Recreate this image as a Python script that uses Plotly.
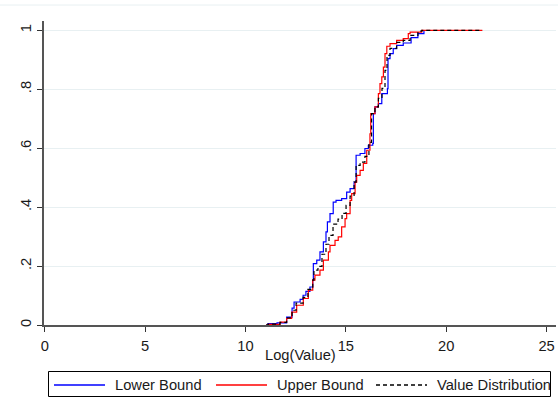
import plotly.graph_objects as go

# Lower Bound (blue) step points: (log value, cumulative share)
lower_x = [11.02, 11.12, 11.57, 12.05, 12.32, 12.42, 12.72, 12.87, 13.01, 13.21, 13.35, 13.38,
           13.55, 13.71, 13.88, 14.01, 14.08, 14.21, 14.37, 14.51, 14.79, 15.04, 15.21, 15.41,
           15.51, 15.71, 15.95, 16.12, 16.34, 16.37, 16.45, 16.62, 16.79, 17.07, 17.10, 17.20,
           17.36, 17.53, 17.86, 18.25, 18.59, 18.89]
lower_y = [0.000, 0.005, 0.007, 0.027, 0.057, 0.078, 0.087, 0.101, 0.114, 0.129, 0.152, 0.208,
           0.220, 0.248, 0.282, 0.316, 0.350, 0.378, 0.417, 0.423, 0.429, 0.451, 0.463, 0.485,
           0.576, 0.582, 0.599, 0.610, 0.616, 0.717, 0.740, 0.751, 0.785, 0.802, 0.904, 0.921,
           0.938, 0.949, 0.957, 0.975, 0.989, 1.000]

# Upper Bound (red)
upper_x = [11.02, 11.14, 11.72, 12.05, 12.30, 12.55, 12.88, 13.13, 13.35, 13.46, 13.71, 13.88,
           14.13, 14.21, 14.46, 14.62, 14.79, 14.96, 15.04, 15.21, 15.29, 15.46, 15.54, 15.71,
           15.87, 16.04, 16.20, 16.24, 16.45, 16.62, 16.70, 16.79, 16.87, 16.95, 17.04, 17.20,
           17.53, 17.86, 18.11, 18.20, 18.78, 21.80]
upper_y = [0.000, 0.002, 0.010, 0.022, 0.044, 0.067, 0.090, 0.118, 0.152, 0.169, 0.186, 0.220,
           0.248, 0.270, 0.287, 0.299, 0.333, 0.361, 0.378, 0.423, 0.446, 0.485, 0.508, 0.525,
           0.548, 0.593, 0.649, 0.717, 0.740, 0.785, 0.819, 0.842, 0.875, 0.921, 0.946, 0.955,
           0.966, 0.972, 0.989, 0.994, 1.000, 1.000]

# Value Distribution (black dashed)
value_x = [11.02, 11.12, 11.72, 12.05, 12.32, 12.52, 12.87, 13.11, 13.35, 13.41, 13.61, 13.81,
           14.01, 14.16, 14.36, 14.61, 14.81, 15.01, 15.21, 15.41, 15.51, 15.71, 15.95, 16.15,
           16.28, 16.45, 16.62, 16.80, 16.95, 17.05, 17.20, 17.53, 17.86, 18.20, 18.59, 18.79,
           21.80]
value_y = [0.000, 0.003, 0.009, 0.024, 0.050, 0.074, 0.094, 0.121, 0.152, 0.186, 0.199, 0.240,
           0.274, 0.304, 0.342, 0.359, 0.379, 0.406, 0.437, 0.485, 0.542, 0.553, 0.572, 0.620,
           0.717, 0.740, 0.769, 0.803, 0.864, 0.915, 0.939, 0.959, 0.966, 0.983, 0.997, 1.000,
           1.000]

x_ticks = [0, 5, 10, 15, 20, 25]
y_ticks = [0, 0.2, 0.4, 0.6, 0.8, 1]
y_tick_labels = ["0", ".2", ".4", ".6", ".8", "1"]

series_names = ["Lower Bound", "Upper Bound", "Value Distribution"]
series_colors = ["#0000ff", "#ff0000", "#000000"]
series_dash = ["solid", "solid", "4px,3px"]

FONT = "Liberation Sans, Arial, sans-serif"
FS = 14.7
TXT = "#1a1a1a"

# figure geometry in pixels (for the hand-drawn legend box)
W, H = 558, 403
ML, MR, MT, MB = 44, 2, 21, 78
PW, PH = W - ML - MR, H - MT - MB
def px_x(px):
    return (px - ML) / PW
def px_y(py):
    return (H - MB - py) / PH

fig = go.Figure()
for xs, ys, nm, col, dsh in zip([lower_x, upper_x, value_x], [lower_y, upper_y, value_y],
                                series_names, series_colors, series_dash):
    fig.add_trace(go.Scatter(x=xs, y=ys, mode="lines", name=nm, showlegend=False,
                             line=dict(color=col, width=1.2, shape="hv", dash=dsh)))

# legend drawn as shapes + text
legend_line_px = [(54, 105), (216, 267), (376, 427)]
legend_text_px = [113, 275, 435]
legend_y = 385
shapes = [
    dict(type="line", xref="paper", yref="paper", x0=-0.09, x1=1.01, y0=px_y(5), y1=px_y(5),
         line=dict(color="#e8f0f2", width=1)),
    dict(type="rect", xref="paper", yref="paper",
         x0=px_x(48.5), x1=px_x(550.5), y0=px_y(371.5), y1=px_y(396.5),
         line=dict(color="#000000", width=1), fillcolor="rgba(0,0,0,0)"),
]
annotations = [dict(text="Log(Value)", xref="paper", yref="paper", x=0.5, y=px_y(355),
                    xanchor="center", yanchor="middle", showarrow=False,
                    font=dict(family=FONT, size=FS, color=TXT))]
for (a, b), tx, nm, col, dsh in zip(legend_line_px, legend_text_px, series_names,
                                     series_colors, series_dash):
    shapes.append(dict(type="line", xref="paper", yref="paper", x0=px_x(a), x1=px_x(b),
                       y0=px_y(legend_y), y1=px_y(legend_y),
                       line=dict(color=col, width=1.3, dash=dsh)))
    annotations.append(dict(text=nm, xref="paper", yref="paper", x=px_x(tx), y=px_y(legend_y),
                            xanchor="left", yanchor="middle", showarrow=False,
                            font=dict(family=FONT, size=FS, color=TXT)))

fig.update_layout(
    width=W, height=H,
    margin=dict(l=ML, r=MR, t=MT, b=MB, autoexpand=False),
    paper_bgcolor="white", plot_bgcolor="white",
    font=dict(family=FONT, size=FS, color=TXT),
    showlegend=False,
    xaxis=dict(range=[-0.04, 25.47], tickvals=x_ticks, ticks="outside", ticklen=5,
               tickwidth=1.2, tickcolor="#333333", showline=True, linecolor="#555555",
               linewidth=1.6, showgrid=False, zeroline=False, ticklabelstandoff=2,
               tickfont=dict(size=FS, color=TXT), automargin=False),
    yaxis=dict(range=[0, 1.0316], tickvals=y_ticks, ticktext=y_tick_labels, ticks="outside",
               ticklen=5, tickwidth=1.2, tickcolor="#333333", showline=True,
               linecolor="#555555", linewidth=1.6, showgrid=True, gridcolor="#e8f0f2",
               gridwidth=1, zeroline=False, tickangle=-90, ticklabelstandoff=0,
               tickfont=dict(size=FS, color=TXT), automargin=False),
    annotations=annotations,
    shapes=shapes,
)

fig.write_html("out.html", config={"displayModeBar": False},
               post_script="document.body.style.margin='0';document.body.style.padding='0';")
